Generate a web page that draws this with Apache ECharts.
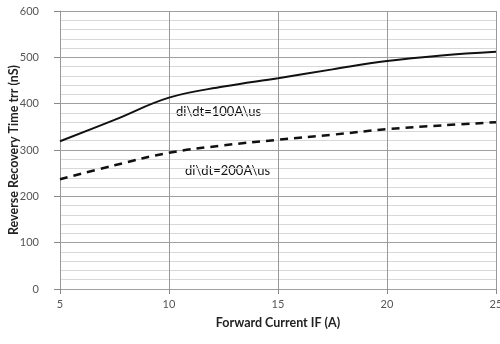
<!DOCTYPE html>
<html>
<head>
<meta charset="utf-8">
<script src="https://cdn.jsdelivr.net/npm/echarts@6/dist/echarts.min.js"></script>
<style>
    html, body { margin: 0; padding: 0; background: #fff; }
    #chart { width: 500px; height: 344px; }
</style>
</head>
<body>
<div id="chart"></div>
<script>
    // forward current IF (A)
    var current = [5, 7.5, 10, 12.5, 15, 17.5, 20, 22.5, 25];
    // trr (nS) for di/dt = 100A/us
    var trr100 = [319, 365, 413, 437, 455, 474, 492, 504, 512];
    // trr (nS) for di/dt = 200A/us
    var trr200 = [237, 267, 294, 310, 322, 333, 345, 353, 360];
    var label100 = 'di\\dt=100A\\us';
    var label200 = 'di\\dt=200A\\us';

    function pairs(xs, ys) {
        var out = [];
        for (var i = 0; i < xs.length; i++) {
            out.push([xs[i], ys[i]]);
        }
        return out;
    }

    var font = 'Lato, "Open Sans", sans-serif';
    var chart = echarts.init(document.getElementById('chart'));
    chart.setOption({
        animation: false,
        grid: {left: 60, right: 4, top: 11, bottom: 55, outerBoundsMode: 'none', containLabel: false},
        xAxis: {
            type: 'value',
            min: 5, max: 25, interval: 5,
            name: 'Forward Current IF (A)',
            nameLocation: 'middle',
            nameGap: 27,
            nameMoveOverlap: false,
            nameTextStyle: {fontFamily: font, fontWeight: 'bold', fontSize: 12.5, color: '#222'},
            axisLine: {show: false},
            axisTick: {show: true, length: 5, lineStyle: {color: '#888'}},
            axisLabel: {fontFamily: font, fontSize: 11, color: '#555', margin: 10},
            splitLine: {show: true, lineStyle: {color: '#999', width: 1}}
        },
        yAxis: {
            type: 'value',
            min: 0, max: 600, interval: 100,
            name: 'Reverse Recovery Time trr (nS)',
            nameLocation: 'middle',
            nameGap: 40,
            nameMoveOverlap: false,
            nameTextStyle: {fontFamily: font, fontWeight: 'bold', fontSize: 12.5, color: '#222'},
            axisLine: {show: true, lineStyle: {color: '#999'}},
            axisTick: {show: true, length: 6, lineStyle: {color: '#888'}},
            axisLabel: {fontFamily: font, fontSize: 11, color: '#555', margin: 21},
            splitLine: {show: true, lineStyle: {color: '#a0a0a0', width: 1}},
            minorTick: {show: false, splitNumber: 5},
            minorSplitLine: {show: true, lineStyle: {color: '#d8d8d8', width: 1}}
        },
        series: [
            {
                type: 'line',
                data: pairs(current, trr100),
                smooth: 0.4,
                showSymbol: false,
                lineStyle: {color: '#111', width: 2}
            },
            {
                type: 'line',
                data: pairs(current, trr200),
                smooth: 0.4,
                showSymbol: false,
                lineStyle: {color: '#111', width: 2.5, type: [8, 6]}
            }
        ],
        graphic: [
            {
                type: 'text', left: 176, top: 105,
                style: {text: label100, font: '13px ' + font, fill: '#111'}
            },
            {
                type: 'text', left: 185, top: 164,
                style: {text: label200, font: '13px ' + font, fill: '#111'}
            }
        ]
    });
</script>
</body>
</html>
